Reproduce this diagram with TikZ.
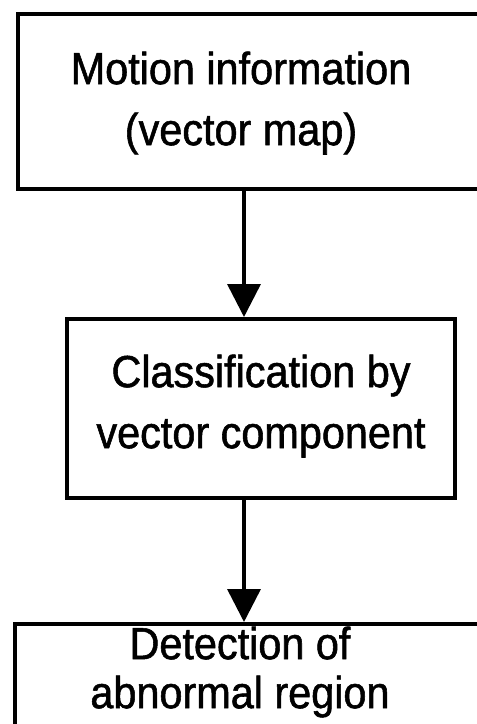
\documentclass[tikz,border=0pt]{standalone}
\usepackage{fontspec}
\setmainfont{Liberation Sans}[FakeStretch=0.92,FakeBold=1.2]
\usetikzlibrary{arrows.meta}
\begin{document}
\begin{tikzpicture}[x=1pt,y=-1pt,
  box/.style={draw=black,line width=3.5pt,rectangle,inner sep=0pt},
  lbl/.style={align=center,inner sep=0pt,font=\fontsize{45}{61}\selectfont},
  lbl3/.style={align=center,inner sep=0pt,font=\fontsize{45}{49}\selectfont},
  conn/.style={line width=3.5pt,-{Triangle[length=33pt,width=33pt]}}]
\useasboundingbox (0,0) rectangle (477,724);
\clip (0,0) rectangle (477,724);
\fill[white] (0,0) rectangle (477,724);
% box 1
\node[box,minimum width=484pt,minimum height=175pt,anchor=north west] (b1) at (16,12) {};
\node[lbl] (t1) at (241,103) {Motion information\\(vector map)};
% box 2
\node[box,minimum width=388pt,minimum height=179pt,anchor=north west] (b2) at (65,317) {};
\node[lbl] (t2) at (261,406) {Classification by\\vector component};
% box 3
\node[box,minimum width=480pt,minimum height=140pt,anchor=north west] (b3) at (13,622) {};
\node[lbl3] (t3) at (240,672) {Detection of\\abnormal region};
% connectors
\coordinate (a1s) at (244,187);
\coordinate (a1e) at (244,317);
\coordinate (a2s) at (244,496);
\coordinate (a2e) at (244,622);
\draw[conn] (a1s) -- (a1e);
\draw[conn] (a2s) -- (a2e);
\end{tikzpicture}
\end{document}
